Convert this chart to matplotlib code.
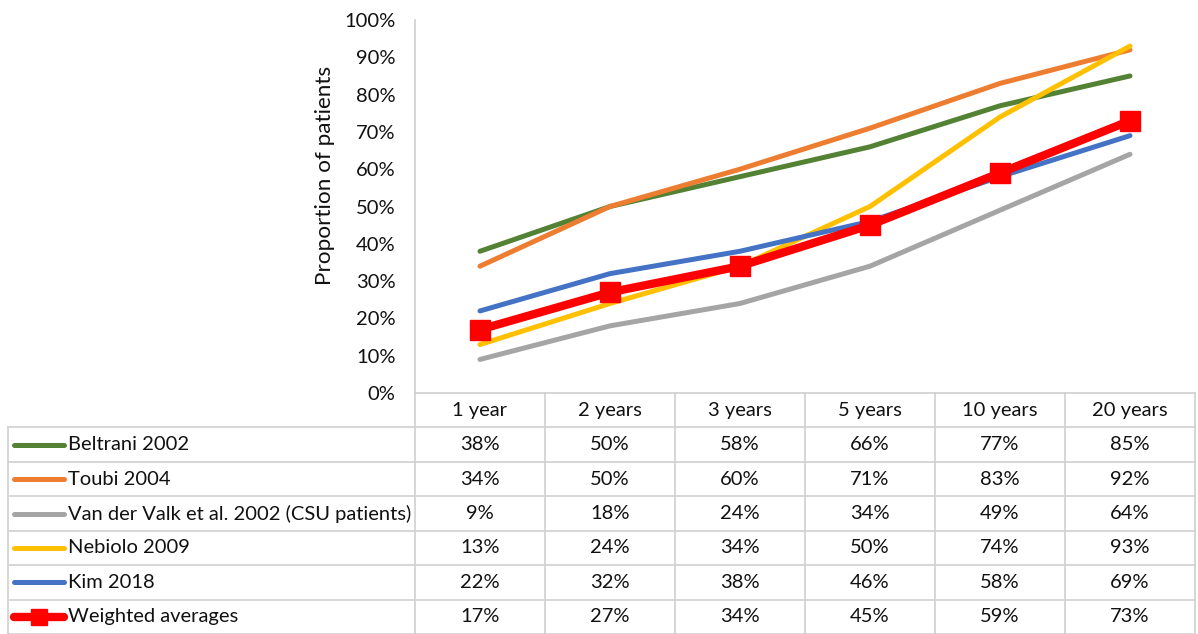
import matplotlib
matplotlib.use("Agg")
import matplotlib.pyplot as plt
from matplotlib.ticker import PercentFormatter
from matplotlib.lines import Line2D

# Data
periods = ["1 year", "2 years", "3 years", "5 years", "10 years", "20 years"]
series_names = ["Beltrani 2002", "Toubi 2004", "Van der Valk et al. 2002 (CSU patients)",
                "Nebiolo 2009", "Kim 2018", "Weighted averages"]
beltrani = [38, 50, 58, 66, 77, 85]
toubi = [34, 50, 60, 71, 83, 92]
van_der_valk = [9, 18, 24, 34, 49, 64]
nebiolo = [13, 24, 34, 50, 74, 93]
kim = [22, 32, 38, 46, 58, 69]
weighted = [17, 27, 34, 45, 59, 73]
y_ticks = [0, 10, 20, 30, 40, 50, 60, 70, 80, 90, 100]

all_series = [beltrani, toubi, van_der_valk, nebiolo, kim, weighted]
colors = ["#548235", "#ED7D31", "#A5A5A5", "#FFC000", "#4472C4", "#FF0000"]

plt.rcParams["font.family"] = ["Lato", "DejaVu Sans"]

W, H = 1198, 634
fig = plt.figure(figsize=(W / 100, H / 100), dpi=100)

plot_left, plot_right, plot_top, plot_bottom = 415, 1195, 20, 393
label_left = 8
grid_color = "#D0D0D0"
text_color = "#111111"
fs = 14.5
lw_line = 3.6
lw_avg = 6.0

ax = fig.add_axes([plot_left / W, 1 - plot_bottom / H,
                   (plot_right - plot_left) / W, (plot_bottom - plot_top) / H])
x = list(range(len(periods)))
for vals, c, name in zip(all_series, colors, series_names):
    y = [v / 100 for v in vals]
    if name == "Weighted averages":
        ax.plot(x, y, color=c, lw=lw_avg, marker="s", ms=14, zorder=5,
                solid_capstyle="round", solid_joinstyle="round")
    else:
        ax.plot(x, y, color=c, lw=lw_line, zorder=3,
                solid_capstyle="round", solid_joinstyle="round")

ax.set_xlim(-0.5, len(periods) - 0.5)
ax.set_ylim(0, 1)
ax.set_yticks([t / 100 for t in y_ticks])
ax.yaxis.set_major_formatter(PercentFormatter(1.0, decimals=0))
ax.tick_params(axis="y", length=0, pad=14, labelsize=fs, labelcolor=text_color)
ax.set_xticks([])
for s in ["top", "right", "bottom"]:
    ax.spines[s].set_visible(False)
ax.spines["left"].set_color(grid_color)
ax.spines["left"].set_linewidth(1.2)
ax.patch.set_alpha(0)

fig.text(325 / W, 1 - 175 / H, "Proportion of patients", rotation=90,
         ha="center", va="center", fontsize=16.2, color=text_color)

# Data table below the plot, sharing the category positions
col_w = (plot_right - plot_left) / len(periods)
x_left = -0.5 - (plot_left - label_left) / col_w
n_rows = len(series_names) + 1
tax = fig.add_axes([label_left / W, 0, (plot_right - label_left) / W, (H - plot_bottom) / H])
tax.set_xlim(x_left, len(periods) - 0.5)
tax.set_ylim(n_rows, 0)
tax.axis("off")

lw_grid = 1.2
# baseline of the plot / top of header
tax.plot([-0.5, len(periods) - 0.5], [0, 0], color=grid_color, lw=lw_grid, clip_on=False)
for r in range(1, n_rows + 1):
    tax.plot([x_left, len(periods) - 0.5], [r, r], color=grid_color, lw=lw_grid, clip_on=False)
for i in range(len(periods) + 1):
    tax.plot([i - 0.5, i - 0.5], [0, n_rows], color=grid_color, lw=lw_grid, clip_on=False)
tax.plot([x_left, x_left], [1, n_rows], color=grid_color, lw=lw_grid, clip_on=False)

for i, p in enumerate(periods):
    tax.text(i, 0.5, p, ha="center", va="center", fontsize=fs, color=text_color)

key_x0 = x_left + 6 / col_w
key_x1 = x_left + 56 / col_w
text_x = x_left + 60 / col_w
for r, (name, vals, c) in enumerate(zip(series_names, all_series, colors), start=1):
    yc = r + 0.5
    if name == "Weighted averages":
        tax.add_line(Line2D([key_x0, key_x1], [yc, yc], color=c, lw=lw_avg, solid_capstyle="round"))
        tax.add_line(Line2D([(key_x0 + key_x1) / 2], [yc], color=c, marker="s", ms=11, lw=0))
    else:
        tax.add_line(Line2D([key_x0, key_x1], [yc, yc], color=c, lw=lw_line, solid_capstyle="round"))
    tax.text(text_x, yc, name, ha="left", va="center", fontsize=fs, color=text_color)
    for i, v in enumerate(vals):
        tax.text(i, yc, f"{v}%", ha="center", va="center", fontsize=fs, color=text_color)

fig.savefig("out.png", dpi=100, facecolor="white")
